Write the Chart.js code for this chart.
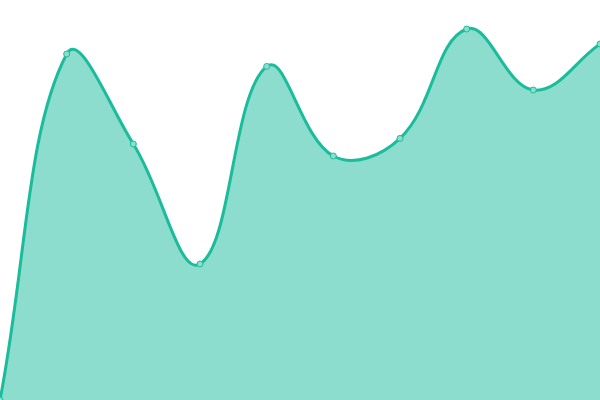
<!DOCTYPE html>
<html>
<head>
<meta charset="utf-8">
<script src="https://cdn.jsdelivr.net/npm/chart.js@4/dist/chart.umd.min.js"></script>
<style>
  html, body { margin: 0; padding: 0; background: #fff; }
  canvas { display: block; }
</style>
</head>
<body>
<canvas id="myChart" width="600" height="400"></canvas>
<script>
// Chart data
var labels = ["1", "2", "3", "4", "5", "6", "7", "8", "9", "10"];
var values = [0, 86.5, 64, 34, 83.4, 61, 65.4, 92.75, 77.5, 89];

// Value range of the hidden y axis
var yMin = 0;
var yMax = 100;

const chartData = {
    labels: labels,
    datasets: [{
        data: values,
        borderColor: "#1abc9c",
        backgroundColor: "rgba(26, 188, 156, 0.5)",
        borderWidth: 3,
        fill: true,
        tension: 0.4,
        pointRadius: 3,
        pointBorderWidth: 1,
        pointBorderColor: "#1abc9c",
        pointBackgroundColor: "rgba(140, 221, 205, 1)"
    }]
};

const config = {
    type: "line",
    data: chartData,
    options: {
        responsive: false,
        animation: false,
        layout: { padding: 0, autoPadding: false },
        plugins: {
            legend: { display: false },
            tooltip: { enabled: false }
        },
        scales: {
            x: { display: false, offset: false },
            y: { display: false, min: yMin, max: yMax }
        }
    }
};

var myChart = new Chart(document.getElementById('myChart'), config);
</script>
</body>
</html>
